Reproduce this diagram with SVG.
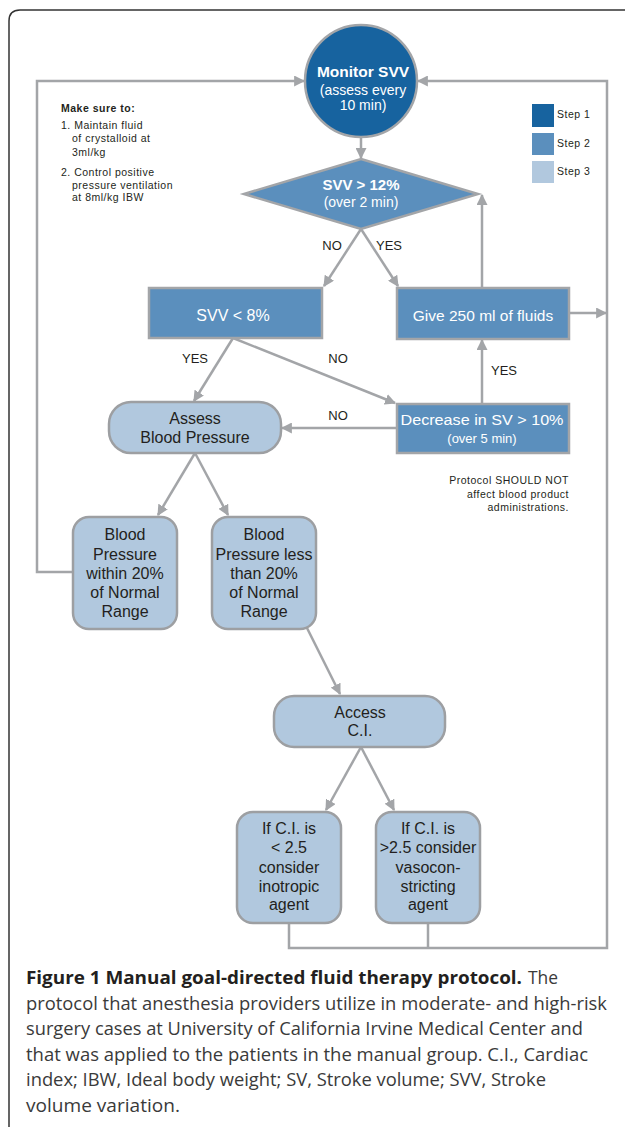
<svg xmlns="http://www.w3.org/2000/svg" width="625" height="1127" viewBox="0 0 625 1127">
<defs>
<style>
.s1{fill:#17639f;stroke:#a3a5a8;stroke-width:2.5}
.s2{fill:#5b8fbd;stroke:#a3a5a8;stroke-width:2.5}
.s3{fill:#b1c8de;stroke:#9d9fa2;stroke-width:2.5}
.c{fill:none;stroke:#a3a5a8;stroke-width:2.5}
.w{fill:#ffffff;font-family:"Liberation Sans",Arial,sans-serif;text-anchor:middle}
.d{fill:#231f20;font-family:"Liberation Sans",Arial,sans-serif;text-anchor:middle;font-size:16px}
.lab{fill:#231f20;font-family:"Liberation Sans",Arial,sans-serif;text-anchor:middle;font-size:13px}
.sm{fill:#231f20;font-family:"Liberation Sans",Arial,sans-serif;font-size:10.5px;letter-spacing:0.5px}
.cap{fill:#3a3a3a;font-family:"Open Sans","Noto Sans",sans-serif;font-size:18px}
.capb{fill:#231f20;font-family:"Open Sans","Noto Sans",sans-serif;font-size:18px;font-weight:bold}
</style>
<marker id="ah" viewBox="0 0 10 10" refX="9" refY="5" markerWidth="11" markerHeight="11" markerUnits="userSpaceOnUse" orient="auto">
<path d="M0,0 L10,5 L0,10 z" fill="#a3a5a8"/>
</marker>
</defs>
<rect width="625" height="1127" fill="#ffffff"/>
<path d="M9,1127 V21 Q9,10 20,10 H625" fill="none" stroke="#333333" stroke-width="1.5"/>

<g id="connectors">
<polyline class="c" points="73,572 37,572 37,81 304,81" marker-end="url(#ah)"/>
<polyline class="c" points="289,923 289,948 607,948 607,81 418,81" marker-end="url(#ah)"/>
<line class="c" x1="428" y1="923" x2="428" y2="948"/>
<line class="c" x1="569" y1="313" x2="606" y2="313" marker-end="url(#ah)"/>
<line class="c" x1="361" y1="138" x2="361" y2="158" marker-end="url(#ah)"/>
<line class="c" x1="361" y1="229" x2="324" y2="286" marker-end="url(#ah)"/>
<line class="c" x1="361" y1="229" x2="398" y2="286" marker-end="url(#ah)"/>
<line class="c" x1="482" y1="288" x2="482" y2="195" marker-end="url(#ah)"/>
<line class="c" x1="233" y1="338" x2="194" y2="401" marker-end="url(#ah)"/>
<line class="c" x1="233" y1="338" x2="395" y2="403" marker-end="url(#ah)"/>
<line class="c" x1="396" y1="428" x2="282" y2="428" marker-end="url(#ah)"/>
<line class="c" x1="482" y1="404" x2="482" y2="340" marker-end="url(#ah)"/>
<line class="c" x1="195" y1="453" x2="158" y2="515" marker-end="url(#ah)"/>
<line class="c" x1="195" y1="453" x2="228" y2="515" marker-end="url(#ah)"/>
<line class="c" x1="307" y1="628" x2="340" y2="694" marker-end="url(#ah)"/>
<line class="c" x1="361" y1="747" x2="326" y2="810" marker-end="url(#ah)"/>
<line class="c" x1="361" y1="747" x2="394" y2="810" marker-end="url(#ah)"/>
<text class="lab" x="332" y="250">NO</text>
<text class="lab" x="389" y="250">YES</text>
<text class="lab" x="195" y="363">YES</text>
<text class="lab" x="338" y="363">NO</text>
<text class="lab" x="338" y="420">NO</text>
<text class="lab" x="504" y="375">YES</text>
</g>

<g id="monitor">
<circle class="s1" cx="361" cy="81" r="56"/>
<text class="w" x="363" y="77" font-size="15.5px" font-weight="bold">Monitor SVV</text>
<text class="w" x="363" y="95" font-size="14px">(assess every</text>
<text class="w" x="363" y="110" font-size="14px">10 min)</text>
</g>

<g id="decision-svv12">
<polygon class="s2" points="361,159 478,194 361,229 244,194"/>
<text class="w" x="361" y="190" font-size="15px" font-weight="bold">SVV &gt; 12%</text>
<text class="w" x="361" y="207" font-size="14px">(over 2 min)</text>
</g>

<g id="svv8">
<rect class="s2" x="149" y="288" width="173" height="50"/>
<text class="w" x="233" y="321" font-size="16px">SVV &lt; 8%</text>
</g>

<g id="give250">
<rect class="s2" x="397" y="288" width="172" height="51"/>
<text class="w" x="483" y="321" font-size="15.5px">Give 250 ml of fluids</text>
</g>

<g id="decrease-sv">
<rect class="s2" x="397" y="404" width="172" height="49"/>
<text class="w" x="482" y="425" font-size="15.5px" textLength="163" lengthAdjust="spacingAndGlyphs">Decrease in SV &gt; 10%</text>
<text class="w" x="482" y="443" font-size="13px">(over 5 min)</text>
</g>

<g id="assess-bp">
<rect class="s3" x="109" y="402" width="172" height="51" rx="22"/>
<text class="d" x="195" y="424">Assess</text>
<text class="d" x="195" y="443">Blood Pressure</text>
</g>

<g id="bp-within">
<rect class="s3" x="73" y="517" width="104" height="112" rx="16"/>
<text class="d" x="125" y="540">Blood</text>
<text class="d" x="125" y="560">Pressure</text>
<text class="d" x="125" y="579">within 20%</text>
<text class="d" x="125" y="598">of Normal</text>
<text class="d" x="125" y="617">Range</text>
</g>

<g id="bp-less">
<rect class="s3" x="212" y="517" width="104" height="112" rx="16"/>
<text class="d" x="264" y="540">Blood</text>
<text class="d" x="264" y="560">Pressure less</text>
<text class="d" x="264" y="579">than 20%</text>
<text class="d" x="264" y="598">of Normal</text>
<text class="d" x="264" y="617">Range</text>
</g>

<g id="access-ci">
<rect class="s3" x="274" y="696" width="171" height="51" rx="20"/>
<text class="d" x="360" y="718">Access</text>
<text class="d" x="360" y="736">C.I.</text>
</g>

<g id="ci-low">
<rect class="s3" x="237" y="812" width="104" height="111" rx="16"/>
<text class="d" x="289" y="834">If C.I. is</text>
<text class="d" x="289" y="853">&lt; 2.5</text>
<text class="d" x="289" y="873">consider</text>
<text class="d" x="289" y="892">inotropic</text>
<text class="d" x="289" y="910">agent</text>
</g>

<g id="ci-high">
<rect class="s3" x="376" y="812" width="104" height="111" rx="16"/>
<text class="d" x="428" y="834">If C.I. is</text>
<text class="d" x="428" y="853">&gt;2.5 consider</text>
<text class="d" x="428" y="873">vasocon-</text>
<text class="d" x="428" y="892">stricting</text>
<text class="d" x="428" y="910">agent</text>
</g>

<g id="legend">
<rect x="532" y="104" width="22" height="23" fill="#17639f"/>
<rect x="532" y="133" width="22" height="22" fill="#5b8fbd"/>
<rect x="532" y="161" width="22" height="22" fill="#b1c8de"/>
<text class="sm" x="557" y="118" font-size="11px" letter-spacing="0.1px">Step 1</text>
<text class="sm" x="557" y="147" font-size="11px" letter-spacing="0.1px">Step 2</text>
<text class="sm" x="557" y="175" font-size="11px" letter-spacing="0.1px">Step 3</text>
</g>

<g id="notes">
<text class="sm" x="61" y="112" font-weight="bold">Make sure to:</text>
<text class="sm" x="61" y="129">1. Maintain fluid</text>
<text class="sm" x="72" y="142">of crystalloid at</text>
<text class="sm" x="72" y="156">3ml/kg</text>
<text class="sm" x="61" y="176">2. Control positive</text>
<text class="sm" x="72" y="189">pressure ventilation</text>
<text class="sm" x="72" y="201">at 8ml/kg IBW</text>
</g>

<g id="protocol-note">
<text class="sm" x="569" y="484" text-anchor="end" letter-spacing="0.2px">Protocol SHOULD NOT</text>
<text class="sm" x="569" y="498" text-anchor="end" letter-spacing="0.2px">affect blood product</text>
<text class="sm" x="569" y="511" text-anchor="end" letter-spacing="0.2px">administrations.</text>
</g>

<g id="caption">
<text class="capb" x="26" y="984" textLength="496" lengthAdjust="spacingAndGlyphs">Figure 1 Manual goal-directed fluid therapy protocol.</text>
<text class="cap" x="528" y="984" textLength="30" lengthAdjust="spacingAndGlyphs">The</text>
<text class="cap" x="26" y="1009.5" textLength="581" lengthAdjust="spacingAndGlyphs">protocol that anesthesia providers utilize in moderate- and high-risk</text>
<text class="cap" x="26" y="1035" textLength="557" lengthAdjust="spacingAndGlyphs">surgery cases at University of California Irvine Medical Center and</text>
<text class="cap" x="26" y="1060.5" textLength="562" lengthAdjust="spacingAndGlyphs">that was applied to the patients in the manual group. C.I., Cardiac</text>
<text class="cap" x="26" y="1086" textLength="520" lengthAdjust="spacingAndGlyphs">index; IBW, Ideal body weight; SV, Stroke volume; SVV, Stroke</text>
<text class="cap" x="26" y="1111.5" textLength="154" lengthAdjust="spacingAndGlyphs">volume variation.</text>
</g>
</svg>
